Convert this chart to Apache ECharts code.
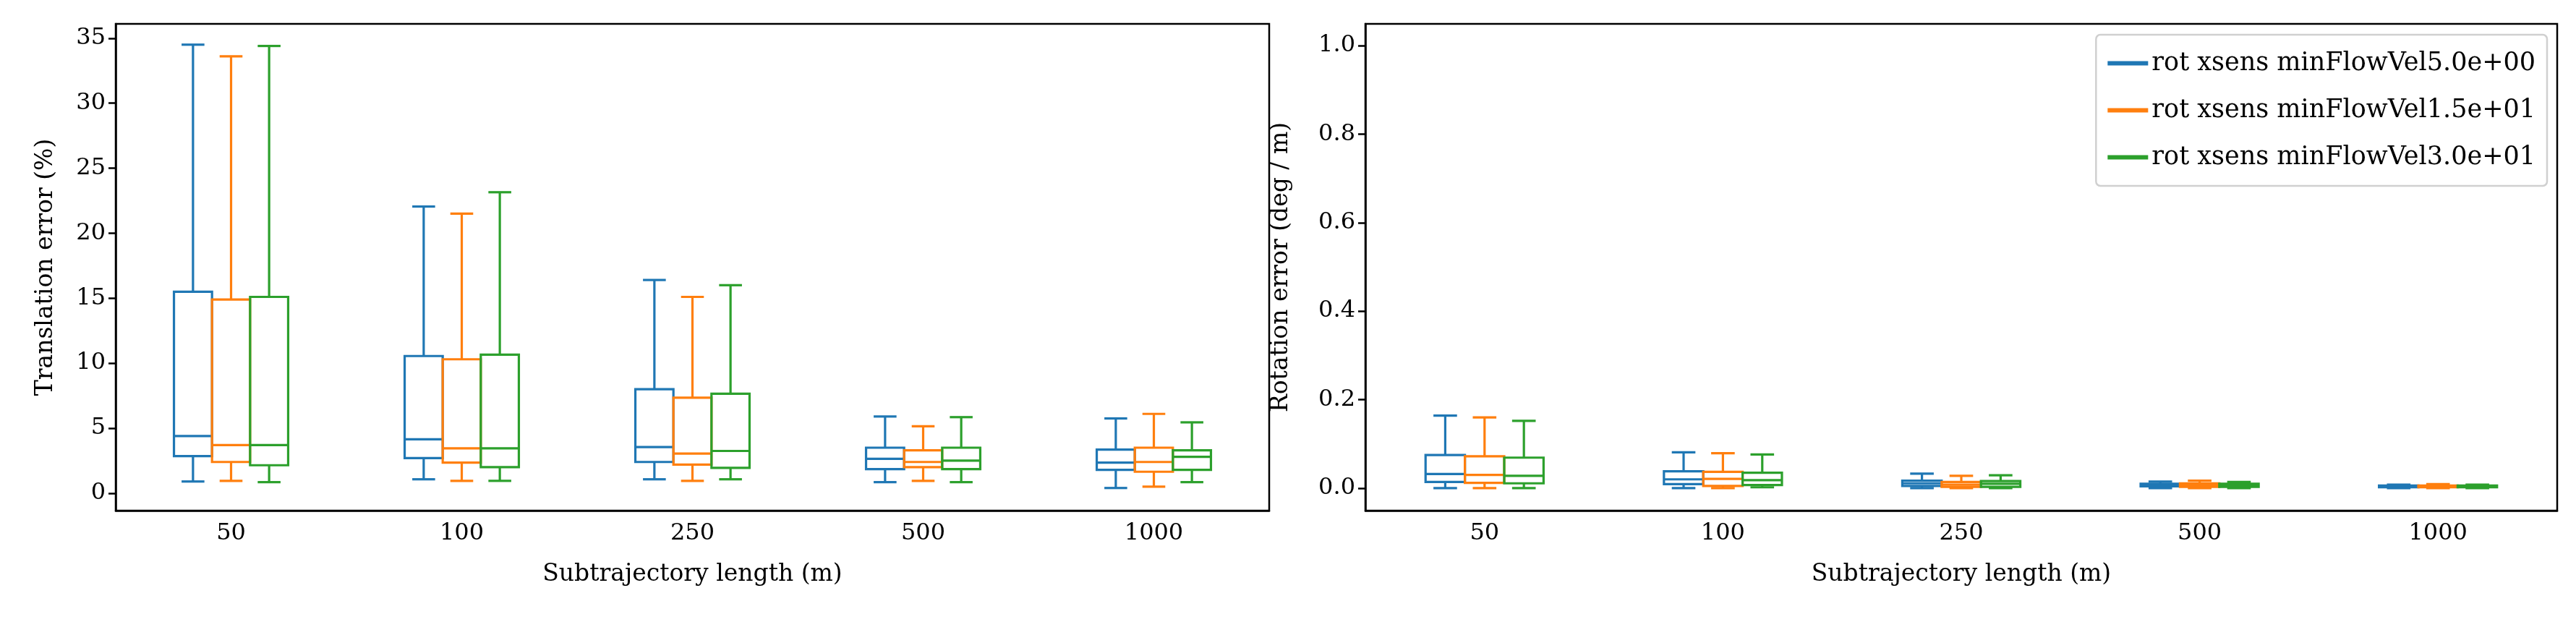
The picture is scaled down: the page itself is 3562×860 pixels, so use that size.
<!DOCTYPE html>
<html>
<head>
<meta charset="utf-8">
<script src="https://cdn.jsdelivr.net/npm/echarts@6/dist/echarts.min.js"></script>
<style>html,body{margin:0;padding:0;background:#fff}#c{width:3562px;height:860px}</style>
</head>
<body>
<div id="c"></div>
<script>
'use strict';

var categories = ['50', '100', '250', '500', '1000'];
var seriesNames = ['rot xsens minFlowVel5.0e+00', 'rot xsens minFlowVel1.5e+01', 'rot xsens minFlowVel3.0e+01'];
var colors = ['#1f77b4', '#ff7f0e', '#2ca02c'];

// [min, q1, median, q3, max] per category
var transBlue = [[0.9, 2.85, 4.4, 15.5, 34.5], [1.07, 2.7, 4.15, 10.55, 22.05], [1.07, 2.4, 3.55, 8.0, 16.4], [0.85, 1.85, 2.65, 3.5, 5.9], [0.4, 1.8, 2.35, 3.35, 5.75]];
var transOrange = [[0.95, 2.4, 3.7, 14.9, 33.6], [0.95, 2.35, 3.45, 10.3, 21.5], [0.95, 2.2, 3.05, 7.35, 15.1], [0.95, 2.0, 2.4, 3.3, 5.15], [0.5, 1.65, 2.4, 3.5, 6.1]];
var transGreen = [[0.85, 2.15, 3.7, 15.1, 34.4], [0.95, 2.0, 3.45, 10.65, 23.15], [1.07, 1.95, 3.25, 7.65, 16.0], [0.85, 1.85, 2.5, 3.5, 5.85], [0.85, 1.8, 2.8, 3.3, 5.45]];

var rotBlue = [[0.0, 0.014, 0.032, 0.075, 0.164], [0.0, 0.009, 0.02, 0.038, 0.081], [0.0, 0.005, 0.011, 0.017, 0.033], [0.0, 0.004, 0.007, 0.01, 0.015], [0.0, 0.002, 0.004, 0.006, 0.008]];
var rotOrange = [[0.0, 0.012, 0.03, 0.072, 0.16], [0.0, 0.005, 0.021, 0.037, 0.079], [0.0, 0.003, 0.008, 0.014, 0.028], [0.0, 0.003, 0.007, 0.011, 0.017], [0.0, 0.002, 0.004, 0.006, 0.009]];
var rotGreen = [[0.0, 0.011, 0.028, 0.069, 0.152], [0.002, 0.007, 0.018, 0.035, 0.076], [0.0, 0.003, 0.01, 0.016, 0.029], [0.0, 0.003, 0.007, 0.01, 0.014], [0.0, 0.002, 0.004, 0.006, 0.008]];

var transTicks = [0, 5, 10, 15, 20, 25, 30, 35];
var rotTicks = [0, 0.2, 0.4, 0.6, 0.8, 1.0];

var FONT = 'DejaVu Serif';
var LW = 3.2;

function toData(arr) {
    return arr.map(function (d, i) { return [i].concat(d); });
}

function makeRender(idx) {
    return function (params, api) {
        var band = api.size([1, 0])[0];
        var w = band * 0.165;
        var cx = api.coord([api.value(0), 0])[0] + (idx - 1) * w;
        var y = function (k) { return api.coord([api.value(0), api.value(k)])[1]; };
        var yMin = y(1), yQ1 = y(2), yMed = y(3), yQ3 = y(4), yMax = y(5);
        var cap = w * 0.3;
        var st = { stroke: colors[idx], lineWidth: LW, fill: null };
        return {
            type: 'group',
            children: [
                { type: 'line', shape: { x1: cx, y1: yQ3, x2: cx, y2: yMax }, style: st },
                { type: 'line', shape: { x1: cx, y1: yQ1, x2: cx, y2: yMin }, style: st },
                { type: 'line', shape: { x1: cx - cap, y1: yMax, x2: cx + cap, y2: yMax }, style: st },
                { type: 'line', shape: { x1: cx - cap, y1: yMin, x2: cx + cap, y2: yMin }, style: st },
                { type: 'rect', shape: { x: cx - w / 2, y: yQ3, width: w, height: yQ1 - yQ3 }, style: { stroke: colors[idx], lineWidth: LW, fill: 'rgba(0,0,0,0)' } },
                { type: 'line', shape: { x1: cx - w / 2, y1: yMed, x2: cx + w / 2, y2: yMed }, style: st }
            ]
        };
    };
}

function xAxis(gridIndex) {
    return {
        type: 'category', gridIndex: gridIndex, data: categories,
        name: 'Subtrajectory length (m)', nameLocation: 'middle', nameGap: 72,
        nameTextStyle: { fontFamily: FONT, fontSize: 33, color: '#000' },
        axisLine: { onZero: false, lineStyle: { color: '#000', width: 2.5 } },
        axisTick: { alignWithLabel: true, length: 10, lineStyle: { width: 2.5, color: '#000' } },
        axisLabel: { fontFamily: FONT, fontSize: 32, color: '#000', margin: 16 },
        splitLine: { show: false }
    };
}

function yAxis(gridIndex, name, min, max, ticks, digits, gap) {
    return {
        type: 'value', gridIndex: gridIndex, min: min, max: max,
        name: name, nameLocation: 'middle', nameGap: gap,
        nameTextStyle: { fontFamily: FONT, fontSize: 33, color: '#000' },
        axisLine: { show: true, lineStyle: { color: '#000', width: 2.5 } },
        axisTick: { show: true, length: 10, customValues: ticks, lineStyle: { width: 2.5, color: '#000' } },
        axisLabel: {
            fontFamily: FONT, fontSize: 32, color: '#000', margin: 14, customValues: ticks,
            formatter: function (v) { return v.toFixed(digits); }
        },
        splitLine: { show: false }
    };
}

var series = [];
[[transBlue, transOrange, transGreen], [rotBlue, rotOrange, rotGreen]].forEach(function (group, g) {
    group.forEach(function (arr, i) {
        series.push({
            type: 'custom', name: seriesNames[i], xAxisIndex: g, yAxisIndex: g,
            itemStyle: { color: colors[i] },
            renderItem: makeRender(i), data: toData(arr)
        });
    });
});

var chart = echarts.init(document.getElementById('c'), null, { renderer: 'canvas' });
chart.setOption({
    animation: false,
    grid: [
        { left: 160, right: 1807, top: 33, bottom: 154, show: true, borderColor: '#000', borderWidth: 2.5, backgroundColor: '#fff' },
        { left: 1888, right: 26, top: 33, bottom: 154, show: true, borderColor: '#000', borderWidth: 2.5, backgroundColor: '#fff' }
    ],
    xAxis: [xAxis(0), xAxis(1)],
    yAxis: [
        yAxis(0, 'Translation error (%)', -1.34, 36.1, transTicks, 0, 80),
        yAxis(1, 'Rotation error (deg / m)', -0.0507, 1.049, rotTicks, 1, 100)
    ],
    legend: {
        right: 40, top: 48, orient: 'vertical',
        data: seriesNames.map(function (n, i) {
            return { name: n, icon: 'rect', itemStyle: { color: colors[i] } };
        }),
        itemWidth: 56, itemHeight: 6, itemGap: 30,
        padding: [22, 16, 22, 16],
        borderColor: '#d0d0d0', borderWidth: 2.5, borderRadius: 6,
        textStyle: { fontFamily: FONT, fontSize: 35, color: '#000' },
        selectedMode: false
    },
    series: series
});
</script>
</body>
</html>
